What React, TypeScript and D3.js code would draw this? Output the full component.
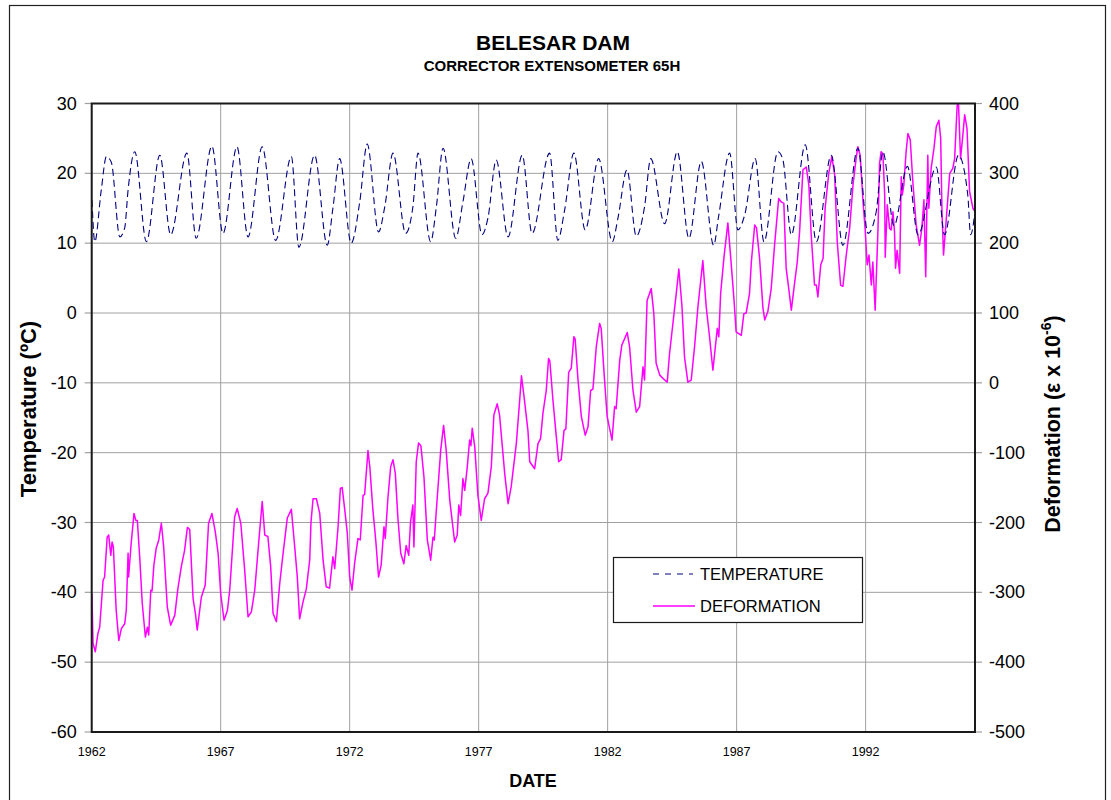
import * as d3 from "d3";

// x axis: decimal years
const yearTicks = [1962, 1967, 1972, 1977, 1982, 1987, 1992];
const tempTicks = [30, 20, 10, 0, -10, -20, -30, -40, -50, -60];
const defTicks = [400, 300, 200, 100, 0, -100, -200, -300, -400, -500];

// [year, ºC]
const temperature: [number, number][] = [
  [1962.01, 16.2], [1962.12, 10.2], [1962.37, 17.6], [1962.57, 22.4], [1962.76, 21.6],
  [1963.09, 10.9], [1963.28, 12.2], [1963.41, 17.6], [1963.67, 23.1], [1964.12, 10.2],
  [1964.64, 22.6], [1965.06, 11.2], [1965.69, 22.9], [1966.05, 10.7], [1966.66, 23.9],
  [1967.09, 11.4], [1967.63, 23.8], [1968.06, 10.9], [1968.61, 23.8], [1969.13, 10.4],
  [1969.74, 22.4], [1970.03, 9.4], [1970.64, 22.6], [1971.13, 9.7], [1971.35, 15.0],
  [1971.61, 22.1], [1972.06, 10.0], [1972.39, 15.9], [1972.68, 24.2], [1973.12, 11.6],
  [1973.36, 15.2], [1973.68, 22.9], [1974.17, 11.4], [1974.45, 15.2], [1974.65, 22.9],
  [1975.14, 10.2], [1975.36, 15.2], [1975.62, 23.6], [1976.11, 10.7], [1976.39, 15.9],
  [1976.71, 22.1], [1977.13, 11.2], [1977.36, 13.6], [1977.68, 21.9], [1978.14, 10.9],
  [1978.69, 22.6], [1979.07, 11.4], [1979.75, 22.9], [1980.07, 10.4], [1980.33, 14.7],
  [1980.69, 22.9], [1981.13, 11.9], [1981.65, 22.1], [1982.18, 10.2], [1982.4, 13.6],
  [1982.75, 20.5], [1983.11, 11.0], [1983.43, 15.2], [1983.67, 22.1], [1984.21, 12.8],
  [1984.7, 23.1], [1985.15, 10.7], [1985.63, 21.7], [1986.11, 9.7], [1986.3, 13.8],
  [1986.73, 22.9], [1987.05, 11.9], [1987.31, 14.0], [1987.72, 22.1], [1988.06, 10.2],
  [1988.6, 23.1], [1988.79, 22.0], [1989.12, 11.2], [1989.66, 24.1], [1990.09, 10.2],
  [1990.67, 22.6], [1991.12, 9.7], [1991.7, 23.6], [1992.09, 11.4], [1992.41, 14.5],
  [1992.67, 23.1], [1993.1, 12.5], [1993.62, 21.0], [1994.03, 11.2], [1994.74, 20.9],
  [1995.06, 11.2], [1995.6, 22.6], [1995.96, 16.9], [1996.07, 11.2], [1996.24, 14.5],
];

// [year, strain x 10^-6]
const deformation: [number, number][] = [
  [1962.01, -302], [1962.05, -373], [1962.14, -385], [1962.24, -359], [1962.31, -350],
  [1962.44, -283], [1962.5, -278], [1962.6, -221], [1962.66, -218], [1962.74, -247],
  [1962.79, -228], [1962.84, -235], [1962.95, -326], [1963.05, -369], [1963.15, -352],
  [1963.28, -345], [1963.34, -326], [1963.41, -244], [1963.43, -278], [1963.53, -230],
  [1963.64, -187], [1963.71, -197], [1963.77, -197], [1963.86, -249], [1963.96, -316],
  [1964.08, -364], [1964.16, -350], [1964.21, -361], [1964.29, -297], [1964.34, -298],
  [1964.41, -261], [1964.5, -237], [1964.6, -225], [1964.7, -201], [1964.79, -235],
  [1964.93, -321], [1965.06, -347], [1965.22, -333], [1965.34, -295], [1965.47, -264],
  [1965.6, -240], [1965.71, -207], [1965.8, -210], [1965.93, -309], [1966.02, -330],
  [1966.09, -354], [1966.25, -307], [1966.4, -290], [1966.53, -201], [1966.66, -187],
  [1966.79, -213], [1966.9, -244], [1967.0, -302], [1967.13, -340], [1967.26, -326],
  [1967.35, -297], [1967.54, -192], [1967.64, -180], [1967.78, -201], [1967.93, -268],
  [1968.06, -335], [1968.19, -328], [1968.32, -297], [1968.47, -230], [1968.61, -170],
  [1968.71, -218], [1968.83, -220], [1968.94, -264], [1969.03, -330], [1969.16, -342],
  [1969.29, -287], [1969.41, -247], [1969.58, -194], [1969.74, -181], [1969.87, -235],
  [1969.97, -278], [1970.06, -338], [1970.19, -314], [1970.32, -295], [1970.45, -254],
  [1970.5, -200], [1970.58, -166], [1970.71, -166], [1970.84, -187], [1970.97, -254],
  [1971.09, -292], [1971.22, -294], [1971.35, -249], [1971.42, -266], [1971.55, -206],
  [1971.64, -151], [1971.71, -150], [1971.81, -182], [1971.91, -216], [1972.0, -278],
  [1972.09, -297], [1972.19, -259], [1972.32, -223], [1972.41, -225], [1972.52, -161],
  [1972.58, -160], [1972.71, -97], [1972.78, -120], [1972.9, -182], [1973.01, -225],
  [1973.12, -278], [1973.22, -261], [1973.33, -206], [1973.38, -223], [1973.48, -166],
  [1973.59, -120], [1973.68, -110], [1973.77, -130], [1973.87, -194], [1973.98, -244],
  [1974.1, -259], [1974.19, -233], [1974.29, -247], [1974.36, -199], [1974.45, -175],
  [1974.49, -235], [1974.58, -113], [1974.67, -86], [1974.76, -90], [1974.88, -135],
  [1975.01, -225], [1975.14, -254], [1975.23, -221], [1975.28, -225], [1975.36, -182],
  [1975.53, -96], [1975.64, -61], [1975.74, -96], [1975.88, -168], [1976.07, -228],
  [1976.17, -218], [1976.23, -175], [1976.3, -190], [1976.39, -137], [1976.46, -154],
  [1976.56, -120], [1976.65, -82], [1976.7, -90], [1976.75, -65], [1976.85, -92],
  [1976.97, -161], [1977.1, -197], [1977.23, -166], [1977.36, -158], [1977.49, -120],
  [1977.59, -46], [1977.72, -30], [1977.81, -46], [1978.01, -130], [1978.14, -173],
  [1978.26, -149], [1978.46, -87], [1978.59, -25], [1978.66, 10], [1978.76, -20],
  [1978.91, -68], [1978.98, -113], [1979.17, -123], [1979.3, -87], [1979.4, -80],
  [1979.49, -44], [1979.62, -11], [1979.71, 35], [1979.76, 31], [1979.88, -25],
  [1980.01, -77], [1980.1, -113], [1980.2, -110], [1980.31, -68], [1980.38, -66],
  [1980.49, 15], [1980.59, 21], [1980.69, 66], [1980.74, 63], [1980.85, 5],
  [1980.98, -48], [1981.13, -75], [1981.24, -63], [1981.34, -11], [1981.43, -9],
  [1981.56, 52], [1981.69, 85], [1981.75, 78], [1981.86, 15], [1981.98, -48],
  [1982.17, -82], [1982.27, -34], [1982.33, -37], [1982.47, 33], [1982.55, 54],
  [1982.76, 72], [1982.85, 52], [1982.98, -10], [1983.11, -42], [1983.24, -34],
  [1983.37, 23], [1983.43, 4], [1983.53, 118], [1983.69, 135], [1983.79, 99],
  [1983.88, 28], [1984.02, 11], [1984.21, 4], [1984.31, 1], [1984.4, 42],
  [1984.53, 85], [1984.66, 128], [1984.76, 163], [1984.88, 110], [1984.98, 37],
  [1985.11, 1], [1985.24, 4], [1985.37, 52], [1985.5, 109], [1985.69, 175],
  [1985.82, 109], [1985.95, 66], [1986.08, 18], [1986.25, 78], [1986.31, 66],
  [1986.38, 128], [1986.51, 180], [1986.66, 229], [1986.78, 175], [1986.9, 118],
  [1986.98, 73], [1987.18, 68], [1987.28, 99], [1987.37, 100], [1987.5, 128],
  [1987.57, 173], [1987.7, 226], [1987.77, 222], [1987.89, 178], [1988.02, 107],
  [1988.09, 90], [1988.21, 102], [1988.34, 135], [1988.47, 197], [1988.63, 264],
  [1988.73, 259], [1988.83, 257], [1988.92, 164], [1989.02, 135], [1989.12, 104],
  [1989.22, 135], [1989.35, 173], [1989.44, 216], [1989.57, 305], [1989.7, 309],
  [1989.8, 283], [1989.89, 212], [1990.02, 140], [1990.09, 140], [1990.15, 123],
  [1990.26, 169], [1990.35, 178], [1990.43, 250], [1990.57, 300], [1990.69, 324],
  [1990.8, 298], [1990.9, 202], [1991.03, 140], [1991.12, 138], [1991.25, 183],
  [1991.38, 221], [1991.51, 283], [1991.64, 324], [1991.7, 338], [1991.79, 326],
  [1991.9, 259], [1991.98, 221], [1992.06, 169], [1992.13, 183], [1992.22, 140],
  [1992.28, 173], [1992.37, 104], [1992.48, 221], [1992.54, 314], [1992.6, 331],
  [1992.67, 328], [1992.74, 269], [1992.76, 180], [1992.84, 255], [1992.93, 221],
  [1992.99, 219], [1993.06, 245], [1993.12, 216], [1993.16, 164], [1993.22, 190],
  [1993.32, 157], [1993.38, 295], [1993.42, 269], [1993.48, 283], [1993.57, 331],
  [1993.64, 357], [1993.73, 348], [1993.83, 288], [1993.96, 226], [1994.09, 197],
  [1994.18, 221], [1994.26, 262], [1994.33, 152], [1994.41, 326], [1994.45, 250],
  [1994.54, 307], [1994.65, 336], [1994.74, 367], [1994.84, 376], [1994.91, 350],
  [1994.96, 245], [1995.02, 183], [1995.12, 231], [1995.26, 300], [1995.38, 307],
  [1995.45, 321], [1995.55, 398], [1995.6, 400], [1995.68, 321], [1995.77, 355],
  [1995.84, 384], [1995.93, 364], [1996.03, 274], [1996.16, 250], [1996.24, 245],
];

const W = 1111;
const H = 800;
const m = { left: 91.7, right: 975, top: 103.5, bottom: 732 };
const font = "Arial, 'Liberation Sans', sans-serif";
const frame = "#1a1a1a";
const grid = "#a0a0a0";

export default function App() {
  const x = d3.scaleLinear().domain([1962, 1996.24]).range([m.left, m.right]);
  const yT = d3.scaleLinear().domain([-60, 30]).range([m.bottom, m.top]);
  const yD = d3.scaleLinear().domain([-500, 400]).range([m.bottom, m.top]);

  const tempLine = d3
    .line<[number, number]>()
    .x((d) => x(d[0]))
    .y((d) => yT(d[1]))
    .curve(d3.curveMonotoneX);
  const defLine = d3
    .line<[number, number]>()
    .x((d) => x(d[0]))
    .y((d) => yD(d[1]));

  return (
    <svg
      width={W}
      height={H}
      style={{ position: "absolute", left: 0, top: 0, background: "#fff" }}
      fontFamily={font}
    >
      <defs>
        <clipPath id="plot-clip">
          <rect x={m.left} y={m.top - 1} width={m.right - m.left} height={m.bottom - m.top + 2} />
        </clipPath>
      </defs>

      {/* chart border */}
      <rect x={9.5} y={5.5} width={1096} height={810} fill="none" stroke="#222" strokeWidth={1.2} />

      {/* titles */}
      <text x={553} y={50} textAnchor="middle" fontSize={21} fontWeight="bold">
        BELESAR DAM
      </text>
      <text x={552} y={71} textAnchor="middle" fontSize={15} fontWeight="bold">
        CORRECTOR EXTENSOMETER 65H
      </text>

      {/* grid */}
      {tempTicks.map((t) => (
        <line key={"h" + t} x1={m.left} x2={m.right} y1={yT(t)} y2={yT(t)} stroke={grid} strokeWidth={1} />
      ))}
      {yearTicks.map((t) => (
        <line key={"v" + t} x1={x(t)} x2={x(t)} y1={m.top} y2={m.bottom} stroke={grid} strokeWidth={1} />
      ))}

      {/* left axis */}
      {tempTicks.map((t) => (
        <g key={"lt" + t}>
          <line x1={m.left - 7} x2={m.left} y1={yT(t)} y2={yT(t)} stroke={grid} strokeWidth={1.2} />
          <text x={m.left - 15} y={yT(t) + 6} textAnchor="end" fontSize={18}>
            {t}
          </text>
        </g>
      ))}
      {/* right axis */}
      {defTicks.map((t) => (
        <g key={"rt" + t}>
          <line x1={m.right} x2={m.right + 7} y1={yD(t)} y2={yD(t)} stroke={grid} strokeWidth={1.2} />
          <text x={m.right + 14} y={yD(t) + 6} textAnchor="start" fontSize={18}>
            {t}
          </text>
        </g>
      ))}
      {/* bottom axis */}
      {yearTicks.map((t) => (
        <text key={"xt" + t} x={x(t)} y={756} textAnchor="middle" fontSize={12.5}>
          {t}
        </text>
      ))}

      {/* series */}
      <g clipPath="url(#plot-clip)">
        <path d={defLine(deformation) ?? ""} fill="none" stroke="#ff00ff" strokeWidth={1.5} strokeLinejoin="round" />
        <path
          d={tempLine(temperature) ?? ""}
          fill="none"
          stroke="#000080"
          strokeWidth={1.1}
          strokeDasharray="7,4"
        />
      </g>

      {/* plot frame */}
      <rect
        x={m.left}
        y={m.top}
        width={m.right - m.left}
        height={m.bottom - m.top}
        fill="none"
        stroke={frame}
        strokeWidth={2}
      />

      {/* axis titles */}
      <text
        transform={`translate(36,409) rotate(-90)`}
        textAnchor="middle"
        fontSize={22}
        fontWeight="bold"
      >
        Temperature (ºC)
      </text>
      <text
        transform={`translate(1060,424) rotate(-90)`}
        textAnchor="middle"
        fontSize={21.5}
        fontWeight="bold"
      >
        Deformation (ε x 10
        <tspan dy={-9} fontSize={14}>
          -6
        </tspan>
        <tspan dy={9}>)</tspan>
      </text>
      <text x={533} y={787} textAnchor="middle" fontSize={18} fontWeight="bold">
        DATE
      </text>

      {/* legend */}
      <g>
        <rect x={613.5} y={557.5} width={249} height={65} fill="#fff" stroke={frame} strokeWidth={1.2} />
        <line x1={653} x2={693} y1={574} y2={574} stroke="#000080" strokeWidth={1.1} strokeDasharray="6,6" />
        <text x={700} y={580} fontSize={16.5}>
          TEMPERATURE
        </text>
        <line x1={653} x2={695} y1={606} y2={606} stroke="#ff00ff" strokeWidth={1.5} />
        <text x={700} y={612} fontSize={16.5}>
          DEFORMATION
        </text>
      </g>
    </svg>
  );
}
